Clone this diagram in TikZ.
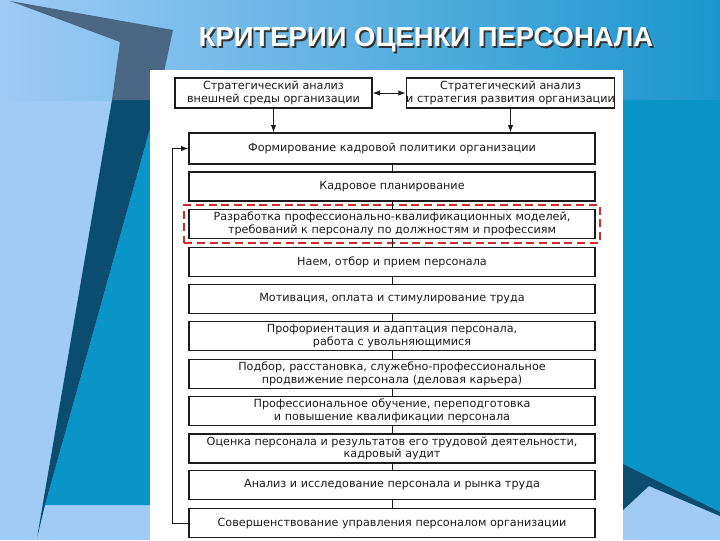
\documentclass[tikz,border=0pt]{standalone}
\usepackage{fontspec}
\setmainfont{DejaVu Sans}
\newfontfamily\titlefont{Liberation Sans}
\usepackage{tikz}
\usetikzlibrary{arrows.meta,positioning,fit,calc}
\definecolor{sky}{HTML}{9FCBF5}
\definecolor{ocean}{HTML}{0A95C9}
\definecolor{deep}{HTML}{0B4D71}
\definecolor{slate}{HTML}{4A6786}
\definecolor{bandend}{HTML}{1A96CE}
\definecolor{ink}{HTML}{1C1C1C}
\definecolor{markred}{HTML}{D42A2A}
\tikzset{
  blk/.style={draw=ink,line width=0.8pt,fill=white,align=center,text=ink,
              font=\fontsize{8.4}{9.4}\selectfont,inner sep=0pt,
              minimum width=304.5pt,minimum height=21.75pt},
  src/.style={blk,minimum height=22.5pt},
  ttl/.style={font=\titlefont\bfseries\fontsize{20.6}{24}\selectfont},
  arr/.style={-{Latex[length=5.5pt,width=4pt]},line width=0.7pt,ink},
  darr/.style={{Latex[length=5.5pt,width=4pt]}-{Latex[length=5.5pt,width=4pt]},line width=0.7pt,ink},
  lnk/.style={line width=0.7pt,ink},
  hilite/.style={draw=markred,line width=1.5pt,dash pattern=on 6pt off 3.5pt},
}
\begin{document}
\begin{tikzpicture}[x=0.75pt,y=-0.75pt]
  \useasboundingbox (0,0) rectangle (720,540);
  % slide background
  \fill[sky] (0,0) rectangle (720,540);
  \shade[left color=sky,right color=bandend] (0,0) rectangle (720,100);
  \fill[ocean] (158,100) -- (720,100) -- (720,512) -- (623,464) -- (623,505) -- (45,505) -- cycle;
  \fill[deep] (112,100) -- (158,100) -- (45,505) -- (37,538) -- cycle;
  \fill[slate] (10,1) -- (173,30) -- (158,100) -- (112,100) -- (120,42) -- cycle;
  \fill[deep] (623,464) -- (720,512) -- (720,516) -- (649,486) -- (623,510) -- cycle;
  % title
  \node[ttl,text=black!80] (titlesh) at (427.8,41.8) {КРИТЕРИИ ОЦЕНКИ ПЕРСОНАЛА};
  \node[ttl,text=white] (title) at (426,40) {КРИТЕРИИ ОЦЕНКИ ПЕРСОНАЛА};
  % chart sheet
  \fill[white] (150,70) rectangle (623,540);
  % sources
  \node[src,minimum width=147.75pt] (ext) at (273.5,93) {Стратегический анализ\\внешней среды организации};
  \node[src,minimum width=153.75pt] (strat) at (510.5,93) {Стратегический анализ\\и стратегия развития организации};
  % main column
  \node[blk,minimum height=23.25pt] (form) at (392,148.5) {Формирование кадровой политики организации};
  \node[blk] (plan)   at (392,186.5) {Кадровое планирование};
  \node[blk] (model)  at (392,224)   {Разработка профессионально-квалификационных моделей,\\требований к персоналу по должностям и профессиям};
  \node[blk] (hire)   at (392,262)   {Наем, отбор и прием персонала};
  \node[blk] (motiv)  at (392,299)   {Мотивация, оплата и стимулирование труда};
  \node[blk] (adapt)  at (392,336)   {Профориентация и адаптация персонала,\\работа с увольняющимися};
  \node[blk] (career) at (392,374)   {Подбор, расстановка, служебно-профессиональное\\продвижение персонала (деловая карьера)};
  \node[blk] (train)  at (392,411)   {Профессиональное обучение, переподготовка\\и повышение квалификации персонала};
  \node[blk] (eval)   at (392,448.5) {Оценка персонала и результатов его трудовой деятельности,\\кадровый  аудит};
  \node[blk] (study)  at (392,485)   {Анализ и исследование персонала и рынка труда};
  \node[blk] (impr)   at (392,523)   {Совершенствование управления персоналом организации};
  \node[hilite,fit=(model),inner sep=3pt] (hl) {};
  \coordinate (fbx) at (172,0);
  \draw[darr] (ext) -- (strat);
  \draw[arr] (ext.south) -- (ext.south |- form.north);
  \draw[arr] (strat.south) -- (strat.south |- form.north);
  \draw[lnk] (form)--(plan); \draw[lnk] (plan)--(model); \draw[lnk] (model)--(hire);
  \draw[lnk] (hire)--(motiv); \draw[lnk] (motiv)--(adapt); \draw[lnk] (adapt)--(career);
  \draw[lnk] (career)--(train); \draw[lnk] (train)--(eval); \draw[lnk] (eval)--(study);
  \draw[lnk] (study)--(impr);
  \draw[arr] (impr.west) -- (impr.west -| fbx) |- (form.west);
\end{tikzpicture}
\end{document}
